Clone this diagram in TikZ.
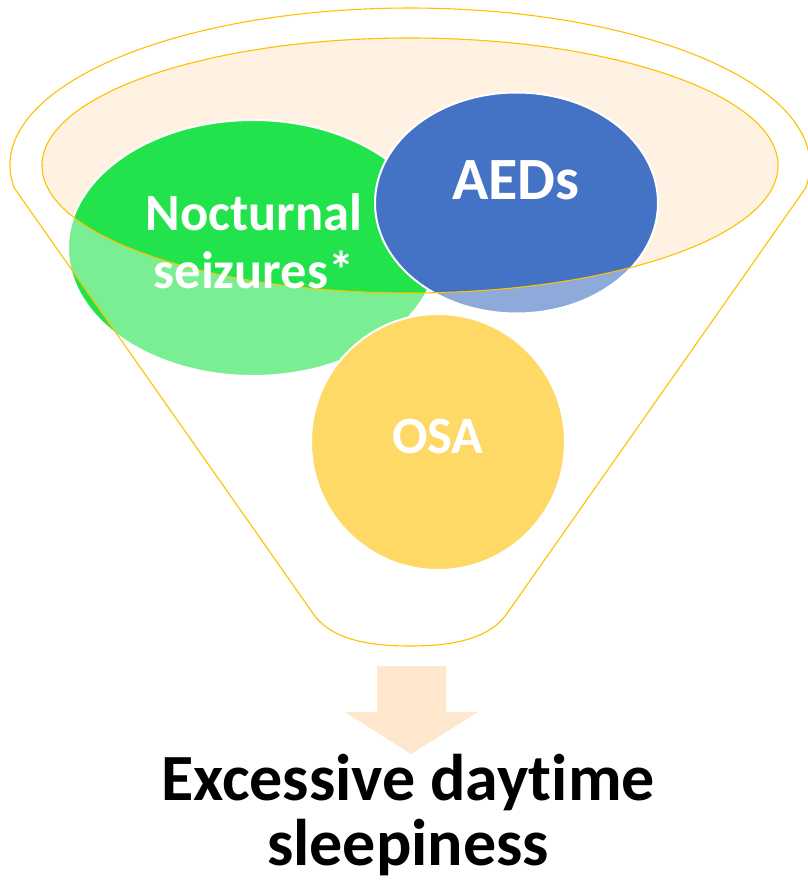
\documentclass[tikz,border=0pt]{standalone}
\usepackage{fontspec}
\setmainfont{Carlito}[Ligatures=NoCommon]

\definecolor{rimline}{HTML}{FFC000}
\definecolor{mouthfill}{HTML}{FFF2E3}
\definecolor{seizgreen}{HTML}{22E34B}
\definecolor{aedblue}{HTML}{4472C4}
\definecolor{osagold}{HTML}{FFC000}
\definecolor{arrowfill}{HTML}{FFE7CE}

\begin{document}
\begin{tikzpicture}[x=1pt, y=1pt,
  funnelbody/.style={insert path={
    (14.3,-188) arc [start angle=188.42, end angle=-8.42, x radius=400, y radius=157]
    -- (508,-612) .. controls (490,-640) and (450,-646) .. (410,-646)
    .. controls (370,-646) and (330,-640) .. (312,-612) -- cycle}},
  mouth/.style={insert path={(410,-165.5) ellipse [x radius=368, y radius=127.5]}},
  bubble/.style={draw=white, line width=2pt},
  rim/.style={draw=rimline, line width=1.1pt},
  bubbletext/.style={text=white, inner sep=0pt, anchor=base,
    font=\bfseries\fontsize{52.5}{58}\selectfont, align=center},
  outcome/.style={text=black, inner sep=0pt, anchor=base,
    font=\bfseries\fontsize{66}{65}\selectfont, align=center}]
\useasboundingbox (0,0) rectangle (807,-885);

% open mouth of the funnel
\fill[mouthfill, mouth];

% the three contributing factors
\filldraw[bubble, fill=seizgreen] (253,-248) ellipse [x radius=185, y radius=128];
\filldraw[bubble, fill=aedblue] (516.5,-203) ellipse [x radius=141.5, y radius=110.5];
\filldraw[bubble, fill=osagold] (438,-442) ellipse [x radius=127, y radius=128];

% translucent funnel wall (everything below the mouth is whitened)
\fill[white, fill opacity=0.4, even odd rule, funnelbody, mouth];

% funnel outlines
\draw[rim, funnelbody];
\draw[rim, mouth];

% labels (a multi-line node sits on the baseline of its last line)
\node[bubbletext] (seiz) at (254,-288) {Nocturnal\\seizures*};
\node[bubbletext, font=\bfseries\fontsize{60}{60}\selectfont] (aeds) at (516,-200) {AEDs};
\node[bubbletext] (osa) at (438,-453) {OSA};

% output arrow and result
\fill[arrowfill] (377,-666) -- (446,-666) -- (446,-712) -- (478,-712)
  -- (411,-754) -- (345,-712) -- (377,-712) -- cycle;
\node[outcome] (eds) at (408,-865) {Excessive daytime\\sleepiness};
\end{tikzpicture}
\end{document}
